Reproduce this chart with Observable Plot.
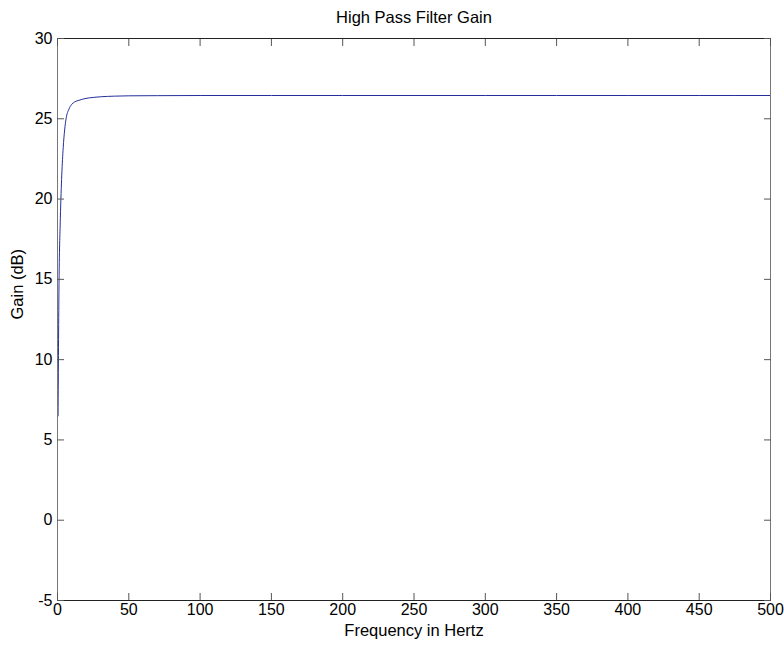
<!DOCTYPE html>
<html>
<head>
<meta charset="utf-8">
<script src="https://cdn.jsdelivr.net/npm/d3@7"></script>
<script src="https://cdn.jsdelivr.net/npm/@observablehq/plot@0.6"></script>
<style>
  body { margin: 0; background: #fff; }
  svg { display: block; }
</style>
</head>
<body>
<div id="chart"></div>
<script>
// Frequency response of the high pass filter (Hz → dB)
const freq = [0.4, 1, 2, 3, 4, 5, 6, 8, 10, 12, 15, 20, 25, 30, 40, 50, 70, 100, 150, 200, 250, 300, 350, 400, 450, 500];
const gain = [6.5, 14.2, 18.8, 21.5, 23.2, 24.3, 25.0, 25.6, 25.9, 26.05, 26.15, 26.27, 26.33, 26.37, 26.41, 26.43, 26.44, 26.45, 26.45, 26.45, 26.45, 26.45, 26.45, 26.45, 26.45, 26.45];

// Axis ticks and extents
const xDomain = [0, 500];
const yDomain = [-5, 30];
const xTicks = [0, 50, 100, 150, 200, 250, 300, 350, 400, 450, 500];
const yTicks = [-5, 0, 5, 10, 15, 20, 25, 30];

const title = "High Pass Filter Gain";
const xLabel = "Frequency in Hertz";
const yLabel = "Gain (dB)";

const data = freq.map((f, i) => ({f, g: gain[i]}));

// plain hyphen for negative tick values
const plain = (d) => String(d);

// inward-pointing tick marks on all four sides
const inwardTicks = {tickSize: -7, tickFormat: () => "", label: null, stroke: "#555"};

const chart = Plot.plot({
  width: 784,
  height: 646,
  marginLeft: 57,
  marginRight: 14,
  marginTop: 38,
  marginBottom: 46,
  style: {
    fontFamily: "'Liberation Sans', Arial, Helvetica, sans-serif",
    fontSize: "16px",
    color: "#000",
    background: "#fff"
  },
  x: {domain: xDomain},
  y: {domain: yDomain},
  marks: [
    Plot.line(data, {x: "f", y: "g", stroke: "#24309a", strokeWidth: 1, curve: "monotone-x"}),
    Plot.ruleX(xDomain, {stroke: "#777"}),
    Plot.ruleY(yDomain, {stroke: "#222"}),
    Plot.axisX(xTicks, {anchor: "bottom", ...inwardTicks}),
    Plot.axisX(xTicks, {anchor: "top", ...inwardTicks}),
    Plot.axisY(yTicks, {anchor: "left", ...inwardTicks}),
    Plot.axisY(yTicks, {anchor: "right", ...inwardTicks}),
    Plot.axisX(xTicks, {anchor: "bottom", tickSize: 0, tickPadding: 3, label: null, tickFormat: plain, fontSize: 16}),
    Plot.axisY(yTicks, {anchor: "left", tickSize: 0, tickPadding: 5, label: null, tickFormat: plain, fontSize: 16}),
    Plot.text([title], {frameAnchor: "top", dy: -27, fontSize: 16.5}),
    Plot.text([xLabel], {frameAnchor: "bottom", dy: 35, fontSize: 16.5}),
    Plot.text([yLabel], {frameAnchor: "left", dx: -40, rotate: -90, fontSize: 16.5})
  ]
});

document.getElementById("chart").append(chart);
</script>
</body>
</html>
